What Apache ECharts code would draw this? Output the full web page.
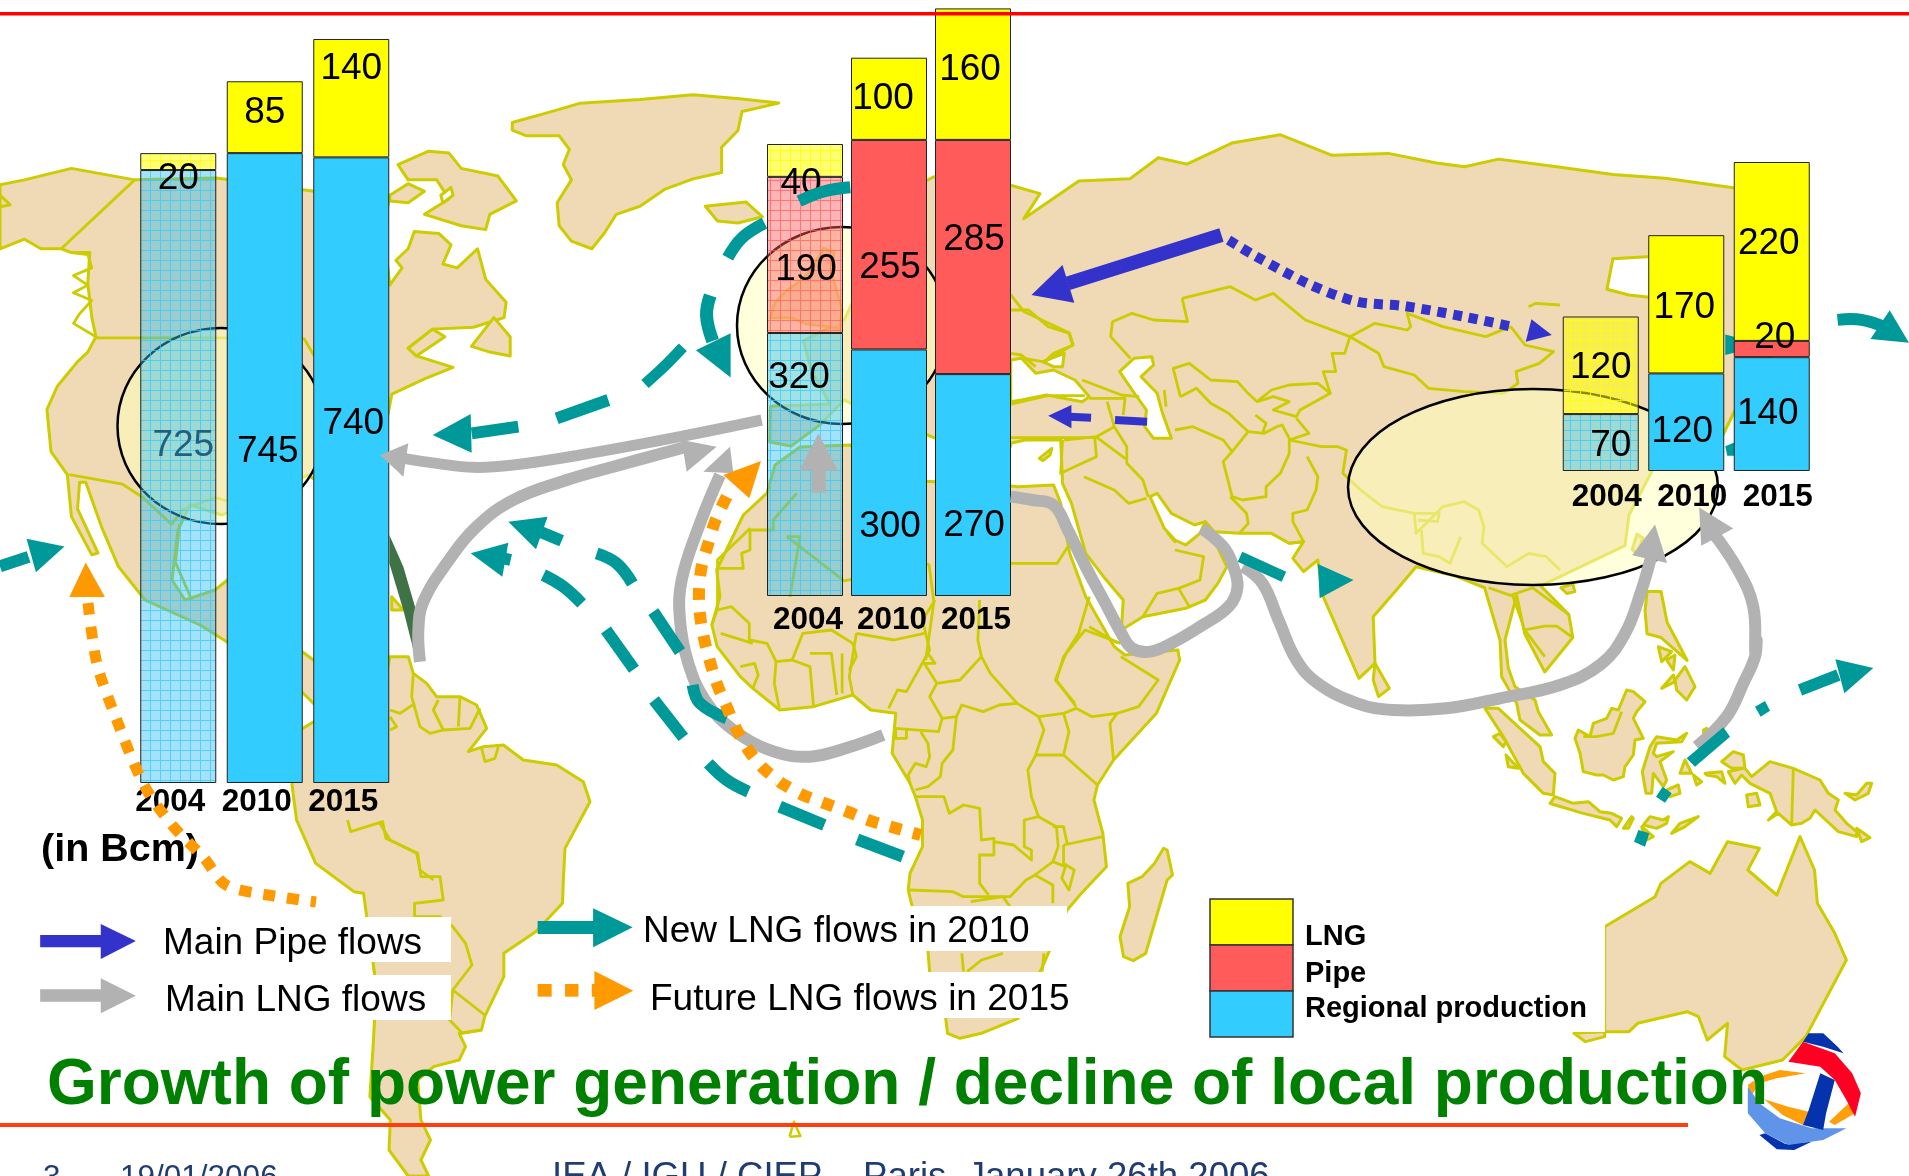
<!DOCTYPE html>
<html lang="en">
<head>
<meta charset="UTF-8">
<title>Growth of power generation / decline of local production</title>
<script src="https://cdn.jsdelivr.net/npm/echarts@6/dist/echarts.min.js"></script>
<style>
    html, body { margin: 0; padding: 0; background: #fff; overflow: hidden; }
    #main { width: 1909px; height: 1176px; }
</style>
</head>
<body>
<div id="main"></div>
<script>
// values in Bcm, as printed on the bars
var years = ['2004', '2010', '2015'];
var naRegional = [725, 745, 740];
var naLng = [20, 85, 140];
var euRegional = [320, 300, 270];
var euPipe = [190, 255, 285];
var euLng = [40, 100, 160];
var asiaRegional = [70, 120, 140];
var asiaPipe = [null, null, 20];
var asiaLng = [120, 170, 220];

var legendNames = ['LNG', 'Pipe', 'Regional production'];
var flowNames = ['Main Pipe flows', 'Main LNG flows', 'New LNG flows in 2010', 'Future LNG flows in 2015'];

var FONT = '"Liberation Sans", Arial, sans-serif';
var YELLOW = '#FFFF00', RED = '#FF5B5B', BLUE = '#33CCFF';
var LAND = '#F0D9B5', COAST = '#CCCC00';
var TEAL = '#009999', GRAY = '#B2B2B2', ORANGE = '#FF9900', PIPEBLUE = '#3333CC';

// 2004 bars are see-through with a fine grid
function gridPattern(fill, line) {
    var c = document.createElement('canvas');
    c.width = 10; c.height = 10;
    var g = c.getContext('2d');
    g.fillStyle = fill;
    g.fillRect(0, 0, 10, 10);
    g.fillStyle = line;
    g.fillRect(0, 0, 10, 1);
    g.fillRect(0, 1, 1, 9);
    return { image: c, repeat: 'repeat' };
}
var pat = {
    regional: gridPattern('rgba(51,190,240,0.45)', 'rgba(51,204,255,0.75)'),
    pipe: gridPattern('rgba(255,91,91,0.45)', 'rgba(255,91,91,0.7)'),
    lng: gridPattern('rgba(255,255,0,0.55)', 'rgba(255,255,0,0.8)')
};

// [dx, dy] of each printed number from the middle of its segment
var nudge = {
    na: { regional: [[5, -31], [3, -16], [2, -46]], lng: [[0, 17], [0, -4], [0, -29]] },
    eu: { regional: [[-6, -87], [1, 54], [1, 41]], pipe: [[1, 15], [1, 23], [1, -17]], lng: [[-4, 23], [-6, 0], [-3, -4]] },
    asia: { regional: [[10, 3], [-4, 10], [-4, 0]], pipe: [[0, 0], [0, 0], [3, -11]], lng: [[0, 3], [-2, 3], [-3, -8]] }
};

function segment(name, values, color, faded, offsets, grid, stack) {
    return {
        type: 'bar', name: name, stack: stack, z: 5,
        xAxisIndex: grid, yAxisIndex: grid, barWidth: 76,
        data: values.map(function (v, i) {
            var item = { value: v, label: { offset: offsets[i] } };
            if (i == 0) {
                item.itemStyle = { color: faded };
                if (v == 725) item.label.color = '#1F5F7F';
            }
            return item;
        }),
        itemStyle: { color: color, borderColor: '#222', borderWidth: 1 },
        label: { show: true, position: 'inside', fontFamily: FONT, fontSize: 37, color: '#000' }
    };
}

var series = [
    segment('Regional production', naRegional, BLUE, pat.regional, nudge.na.regional, 0, 'na'),
    segment('LNG', naLng, YELLOW, pat.lng, nudge.na.lng, 0, 'na'),
    segment('Regional production', euRegional, BLUE, pat.regional, nudge.eu.regional, 1, 'eu'),
    segment('Pipe', euPipe, RED, pat.pipe, nudge.eu.pipe, 1, 'eu'),
    segment('LNG', euLng, YELLOW, pat.lng, nudge.eu.lng, 1, 'eu'),
    segment('Regional production', asiaRegional, BLUE, pat.regional, nudge.asia.regional, 2, 'asia'),
    segment('Pipe', asiaPipe, RED, pat.pipe, nudge.asia.pipe, 2, 'asia'),
    segment('LNG', asiaLng, YELLOW, pat.lng, nudge.asia.lng, 2, 'asia')
];

function xAxisFor(grid, margin, padding) {
    return {
        type: 'category', gridIndex: grid, data: years, z: 6,
        axisLine: { show: false }, axisTick: { show: false },
        axisLabel: { margin: margin, padding: padding, fontFamily: FONT, fontSize: 31.5, fontWeight: 'bold', color: '#000', interval: 0 }
    };
}
function yAxisFor(grid, max) {
    return { type: 'value', gridIndex: grid, min: 0, max: max, show: false, splitLine: { show: false } };
}

// ---- map and flow drawing (background artwork, not data) ----
// each frame is [left, top, scaleX, scaleY] of a traced crop of the slide
var Z1 = [0, 0, 2.45, 2.613], Z2 = [640, 0, 2.45, 2.376], Z3 = [1280, 140, 2.493, 2.613];
var Z4 = [0, 820, 1.568, 3], Z5 = [1000, 820, 1.725, 3], Z6 = [660, 600, 2.8, 3];
var Z7 = [1440, 640, 3, 3], Z8 = [380, 380, 3, 3], Z9 = [1000, 220, 2.8, 3];

function P(f, str) {
    return str.trim().split(/\s+/).map(function (p) {
        var c = p.split(',');
        return [f[0] + c[0] / f[2], f[1] + c[1] / f[3]];
    });
}

var els = [];
function poly(points, fill, z, stroke, lw) {
    els.push({ type: 'polygon', silent: true, z: z, shape: { points: points },
        style: { fill: fill, stroke: stroke || null, lineWidth: lw || 0, lineJoin: 'round' } });
}
function line(points, color, w, z, smooth, dash) {
    els.push({ type: 'polyline', silent: true, z: z, shape: { points: points, smooth: smooth || 0 },
        style: { fill: null, stroke: color, lineWidth: w, lineDash: dash || null, lineCap: 'butt', lineJoin: 'round' } });
}
function land(points) { poly(points, LAND, 0, COAST, 3); }
function sea(points) { poly(points, '#fff', 1, COAST, 3); }
function border(f, str) { line(P(f, str), COAST, 2.8, 1); }
function rect(x, y, w, h, fill, z) {
    els.push({ type: 'rect', silent: true, z: z, shape: { x: x, y: y, width: w, height: h }, style: { fill: fill } });
}
function label(text, x, y, size, color, bold, z) {
    els.push({ type: 'text', silent: true, z: z || 9, style: { text: text, x: x, y: y, fill: color,
        font: (bold ? 'bold ' : '') + size + 'px ' + FONT, textAlign: 'left', textVerticalAlign: 'middle' } });
}
function ellipse(cx, cy, a, b) {
    els.push({ type: 'ellipse', silent: true, z: 3, shape: { cx: cx, cy: cy, rx: a, ry: b },
        style: { fill: 'rgba(255,255,190,0.55)', stroke: '#000', lineWidth: 2.5 } });
}

// North America
land([].concat(
    P(Z1, '0,483 60,470 175,440 330,470 530,465 770,500 955,510 940,600 955,745 985,700 970,680 1000,650 1015,605 1075,610 1105,640 1085,690 1120,700 1170,650 1190,730 1240,790 1235,830 1160,855 1060,860 1000,910 1020,930 1110,960 1040,990 960,1030'),
    [[385, 430], [370, 500], [345, 560], [330, 490], [308, 475], [222, 515], [190, 505], [178, 530], [172, 580], [185, 600], [215, 590], [240, 570], [280, 610], [300, 650], [340, 680], [375, 700], [375, 755], [330, 720], [300, 690], [240, 650], [200, 625], [145, 600], [118, 566]],
    P(Z1, '290,1480 250,1380 210,1260 195,1260 190,1330 240,1445 225,1450 175,1350 165,1240 125,1180 115,1070 140,1010 190,945 215,920 235,880 225,830 215,740 220,660 175,660 150,650 100,650 60,625 0,650')
));
land(P(Z1, '0,510 25,535 0,540'));
land(P(Z1, '975,430 1050,395 1100,400 1130,440 1220,460 1265,525 1200,560 1190,600 1130,590 1040,560 1100,520 1070,470 1000,470'));
land(P(Z1, '1155,905 1210,830 1250,880 1250,930 1200,920'));
land(P(Z1, '955,510 1000,480 1040,500 1000,530 955,525'));
land(P(Z1, '1020,930 1090,880 1060,860 1000,910'));
land(P(Z8, '35,650 70,690 35,690'));
sea(P(Z1, '1080,510 1105,490 1110,510 1085,530'));
border(Z1, '330,470 150,650');
border(Z1, '235,883 530,883 745,885 770,930');
border(Z1, '170,1240 300,1265 350,1300 420,1370 450,1330 528,1300 560,1310');
border(Z1, '440,1370 430,1470 470,1568');
border(Z1, '175,660 215,665 225,700 180,720 215,745 180,765 225,785 195,820 180,845 235,880');

// South America
land([].concat(
    P(Z8, '30,830 85,830 100,880 140,910 170,950 240,950 290,975 320,1045 265,1115 310,1100 370,1095 430,1140 530,1155 610,1205 630,1265 555,1405 550,1500'),
    P(Z4, '882,250 840,335 790,400 790,470 760,590 755,630 720,640 730,680 720,720 680,740 655,780 660,900 675,960 660,1020 672,1068 640,1068 610,990 612,900 580,830 585,680 590,500 570,220 555,215 495,130 465,0'),
    [[292, 785], [300, 730], [350, 700], [385, 680]]
));
border(Z8, '100,880 95,950 120,1040 150,1060 190,1050 160,990 175,960');
border(Z8, '240,950 235,1040');
border(Z8, '190,1050 270,1045 300,985');
border(Z8, '30,990 60,1000 105,970');
border(Z8, '30,1050 50,1040 30,1010');
border(Z8, '305,1105 315,1145 345,1135 355,1100');
border(Z8, '0,1330 30,1380 110,1420 120,1470 160,1500');
border(Z4, '545,0 550,35 600,5 605,55 655,100 660,170 690,170 695,240 650,250 650,290 690,290 710,320 730,370 740,435 710,510 760,585');
border(Z4, '710,510 705,600 725,640 755,630');
border(Z4, '590,500 585,430');

// Greenland and Iceland
land([].concat(
    P(Z1, '1255,320 1340,295 1420,270 1568,260'),
    P(Z2, '130,225 250,235 340,245 250,265 240,310 200,350 200,410 130,425 60,450 0,490'),
    P(Z1, '1510,560 1480,610 1450,650 1400,630 1370,590 1365,530 1400,470 1380,430 1395,390 1370,355 1290,355 1255,340')
));
land(P(Z2, '160,490 260,480 300,515 240,530 190,525'));

// Eurasia
land([].concat(
    P(Z2, '720,420 908,440 980,460 940,520 1000,480 1075,430 1200,425 1270,375 1340,390 1450,340 1568,320'),
    P(Z3, '130,40 270,35 390,60 460,70 545,50 690,70 830,90 960,100 1130,125'),
    [[1790, 200], [1790, 330], [1740, 400]],
    P(Z3, '1100,780 930,860 870,980 860,1060 720,1130 650,1165 720,1240 730,1300 660,1390 610,1290 590,1190'),
    P(Z7, '195,0 205,85 225,140 285,180 295,215 335,285 300,285 240,240 230,190 185,110 180,0'),
    P(Z3, '510,1170 440,1140'),
    P(Z9, '1165,1040 1110,1110 1045,1190 1050,1330 1005,1375 905,1130 890,1020 850,1055 820,1015 850,965 810,970 760,940 670,940 600,935 575,905 635,1040 610,1090 575,1140 520,1165 400,1190 340,1230 345,1140 290,1070 240,1000 200,850 175,790 170,660 70,660 30,670'),
    P(Z2, '908,1060 720,1040 520,960 500,950 440,1010 370,1060 318,1050 320,965 465,960 420,880 400,810 500,760 560,640 640,520 700,430')
));
land(P(Z2, '330,720 360,690 390,670 420,640 450,590 475,600 470,650 495,735 490,780 410,770 370,755 320,755'));
sea(P(Z9, '30,420 60,415 100,460 150,450 210,480 250,530 230,545 130,525 60,540 30,545'));
sea(P(Z9, '120,425 180,400 175,440 150,440'));
sea(P(Z9, '335,455 375,415 425,410 430,435 395,470 440,520 455,580 480,655 430,655 405,620 410,570 370,510'));
sea(P(Z9, '420,830 440,820 480,880 545,915 575,905 560,940 520,975 490,960 460,925'));
sea(P(Z3, '1000,300 830,310 815,390 870,405 1000,420'));
land(P(Z9, '110,715 145,685 140,705 120,722'));
land(P(Z9, '470,940 490,925 505,945 490,965'));
land(P(Z9, '1050,1330 1090,1405 1060,1430 1045,1380'));
land(P(Z3, '700,1170 730,1160 735,1180 715,1185'));
land(P(Z3, '890,1030 905,1040 890,1080 878,1070'));
border(Z9, '30,270 80,270 135,320 195,340 205,375 150,400 120,430');
border(Z9, '30,400 60,405 100,440');
border(Z9, '510,235 645,200 715,240 765,220 855,300 980,350');
border(Z9, '510,235 525,305 430,300 370,280 315,305 310,350 365,415');
border(Z9, '980,350 965,400 930,400 940,455 905,455 925,520 840,570 830,590 765,570 810,545 765,530 720,545 690,515 665,485 590,480 530,430 485,445 505,530');
border(Z9, '925,520 890,490 810,495 760,510 720,545');
border(Z9, '505,530 550,505 590,550 640,580 695,635 650,695 625,660 540,620 490,630');
border(Z9, '695,635 740,640 775,620 790,615 810,655');
border(Z9, '715,585 745,610 735,640');
border(Z9, '980,350 1050,310 1140,330 1150,320 1140,280 1240,320 1360,350 1430,320');
border(Z9, '1430,320 1470,375 1550,395 1510,430 1445,455 1450,490 1410,520 1300,515 1200,505 1160,465 1075,440 1060,400 980,350');
border(Z9, '1480,260 1500,250 1568,255');
border(Z9, '830,595 865,640 810,660 900,680 945,680 970,690 960,760 1010,810 1070,860 1160,880');
border(Z9, '810,655 810,700 785,760 745,800 745,830 680,840 650,830 625,725 650,695');
border(Z9, '860,710 890,770 885,810 860,870 820,880 820,905 850,965 810,970');
border(Z9, '645,830 690,880 695,910 670,940');
border(Z9, '300,545 320,620 355,680 355,730 400,780 415,830');
border(Z9, '180,660 270,650 320,620');
border(Z9, '175,660 170,760 230,730 270,710 265,650');
border(Z9, '235,770 320,810 360,850 410,835');
border(Z9, '230,480 340,525 390,530');
border(Z9, '250,535 350,535 345,585');
border(Z9, '460,510 465,560');
border(Z9, '400,1190 440,1120 500,1105 560,1080 570,1010 490,990');
border(Z9, '500,1105 530,1160');
border(Z9, '1160,880 1165,940 1240,860 1300,845 1340,870 1355,920 1350,970 1420,1040 1480,1000 1530,1010 1568,1050');
border(Z9, '1160,880 1230,880 1225,905 1170,900');
border(Z9, '1180,930 1185,1000 1230,1010 1260,1030 1290,950');
border(Z3, '520,1170 575,1190 630,1170 720,1240');
border(Z3, '580,1190 610,1280 660,1270 690,1270 730,1300');
border(Z3, '610,1280 660,1350');
border(Z2, '908,700 940,740 1050,790 1060,820 990,860 930,850');
border(Z2, '908,960 1000,940 1090,940');
border(Z2, '908,1040 1020,1040 1120,1040 1190,1090');

// Africa
land([].concat(
    [[767, 493], [775, 465], [800, 447], [850, 445], [900, 480]],
    P(Z9, '0,795 50,800 150,795 170,850 195,1000 240,1130 320,1280 350,1305'),
    P(Z6, '1450,150 1455,180 1390,340 1270,480 1225,555 1215,600 1240,700 1250,800 1180,880 1140,930 1075,1090 1003,1255 900,1300 840,1315 805,1300 800,1255 755,1115 750,1050 705,915 695,870 700,820 735,740 735,660 715,590 700,550 650,460 660,340 590,330 540,285 430,320 335,330 260,265 225,230 160,140 145,75'),
    P(Z8, '1020,650 1010,570 1090,405 1160,340')
));
land(P(Z6, '1410,745 1420,750 1435,825 1420,840 1360,1060 1325,1082 1298,1070 1288,1010 1315,920 1310,850 1350,830 1385,790'));
[
    '145,75 160,30 200,20 250,70 250,120 300,130 325,185 320,250 335,330',
    '170,100 260,130',
    '225,200 265,190 275,225 260,265',
    '325,185 370,180 420,200 430,320',
    '420,160 480,160 495,285',
    '510,160 510,280',
    '530,210 550,170 540,130 480,90 400,100 370,180',
    '550,100 655,120 740,100',
    '550,100 530,230 540,285',
    '640,325 665,270 690,275 755,150 735,60 770,0',
    '660,385 780,395 790,355 755,290 775,250 840,240 900,170 925,220 1000,310 1060,350 1130,340',
    '775,250 740,190 770,190 750,160',
    '1000,310 950,315 905,335 845,315 830,350 790,355',
    '830,350 820,450 790,490 785,530 750,560 715,570',
    '660,385 660,415 690,415 690,385',
    '730,395 750,430 755,470 745,500 715,490 695,525 700,550',
    '715,590 795,590 810,640 850,615 895,625 900,720 935,715 935,765 895,765 895,850 920,885',
    '700,870 820,875 850,890 980,890 1025,840 1050,825 1100,855 1100,910',
    '935,725 990,735 1040,780 1040,750 1020,740 1020,660 1060,650 1110,680 1115,740 1100,785 1050,825',
    '1060,650 1040,590 1030,510 1050,470 1075,390 1060,350',
    '1050,465 1130,465 1145,395 1130,340',
    '1130,465 1225,555',
    '1130,340 1165,325 1210,350 1280,340 1340,320 1395,240 1290,170',
    '1280,340 1260,370 1270,480',
    '1110,240 1165,320',
    '1110,240 1130,170 1190,90 1290,130',
    '900,170 890,120 895,0',
    '1130,735 1240,710',
    '1130,735 1130,790 1160,810 1145,870 1125,835 1135,800 1100,785',
    '1100,680 1130,680 1140,730',
    '870,905 960,890 980,920',
    '845,1060 850,1115',
    '960,1060 900,1080 860,1115',
    '1075,1060 1070,1115'
].forEach(function (s) { border(Z6, s); });
border(Z8, '1010,565 1090,565 1085,520 1110,510 1110,450 1180,450 1180,420 1250,340');
border(Z8, '1220,470 1260,470 1230,650');
border(Z2, '270,1255 190,1330 190,1450');
border(Z2, '360,1275 500,1380 708,1340');
border(Z2, '708,1340 720,1430 700,1568');
border(Z9, '30,1030 110,1030 160,1030 190,980');
border(Z9, '250,1130 220,1240 185,1300 155,1380 210,1450');
border(Z9, '330,1270 250,1220');

// South-East Asia, Australia
[
    '135,205 175,205 240,265 300,320 310,365 345,400 340,465 310,460 250,400 190,290',
    '330,490 345,470 400,490 445,485 480,515 515,520 545,535 530,560 510,540 430,520 345,495',
    '550,565 575,530 580,535 565,565',
    '610,555 630,530 670,540 685,530 680,550 650,565',
    '695,580 720,550 775,530 735,560',
    '605,560 640,590 620,600',
    '405,295 415,270 450,290 460,250 500,235 515,205 535,210 560,150 580,155 615,185 590,215 580,235 610,295 585,300 580,345 555,380 550,410 520,420 490,405 470,405 430,395 420,340',
    '630,320 650,290 710,300 740,280 725,305 650,310 640,340 650,350 700,335 660,365 680,420 670,440 640,400 635,460 618,460 607,395',
    '680,450 715,435 720,460 690,470',
    '720,400 735,360 755,400',
    '760,405 785,425 770,435',
    '795,400 845,395 855,430 830,410 800,405',
    '790,270 800,265 795,300',
    '845,365 880,335 910,345 915,385 935,410 990,365 1060,385 1140,420 1165,460 1195,480 1185,510 1220,550 1250,575 1250,590 1195,575 1125,510 1110,535 1085,550 1055,555 1015,520 985,540 1010,515 990,460 930,430 905,405 885,430 865,395 910,385 875,385',
    '1250,565 1290,593 1265,605',
    '920,465 950,460 960,495 925,500',
    '1215,460 1250,465 1280,430 1295,430 1285,460 1245,480',
    '160,290 180,280 198,305 190,320',
    '198,345 235,385 205,380',
    '655,20 695,35 665,65',
    '735,80 765,140 740,180 710,150 705,120',
    '665,145 700,105 705,125',
    '680,60 705,45 700,90'
].forEach(function (s) { land(P(Z7, s)); });
border(Z7, '430,290 470,290 520,280 545,215');
border(Z7, '1060,385 1055,555');
land(P(Z3, '915,1180 950,1180 965,1260 1015,1360 950,1300 915,1290 910,1230'));
land(P(Z5, '1043,320 1130,230 1140,190 1190,125 1225,160 1255,65 1310,85 1290,150 1340,225 1380,50 1405,150 1410,250 1440,340 1460,420 1390,650 1350,720 1280,750 1250,710 1255,610 1220,660 1205,590 1185,575 1100,610 1085,635 1040,635 990,640 1010,665 1043,650'));
line(P(Z4, '1238,950 1245,905 1255,948 1238,950'), COAST, 2.5, 1);

// regions of the three charts
ellipse(221, 426, 103.5, 98);
ellipse(842, 325.5, 105, 98.5);
ellipse(1533, 487, 185, 98);

// white boxes behind the key texts
rect(160, 917, 291, 45, '#fff', 4);
rect(160, 975, 291, 45, '#fff', 4);
rect(640, 906, 427, 45, '#fff', 4);
rect(640, 972, 436, 46, '#fff', 4);
rect(1300, 900, 305, 132, '#fff', 4);

// flows
function head(f, s, color) { poly(P(f, s), color, 10); }
function flow(f, s, color, w, smooth, dash) { line(P(f, s), color, w, 10, smooth === undefined ? 0.4 : smooth, dash); }

poly(P(Z8, '28,465 70,560 105,680 122,840 108,840 70,690 28,550'), '#3F7346', 10);

// main LNG flows
flow(Z8, '1145,120 900,170 600,225 400,255 280,262 170,250 70,235', GRAY, 11);
head(Z8, '85,190 0,225 70,290', GRAY);
flow(Z8, '120,845 115,750 130,665 200,550 290,440 400,360 560,300 700,260 920,200', GRAY, 12);
head(Z8, '905,180 1010,200 920,275', GRAY);
line([].concat(P(Z8, '1020,285 960,430 905,600 900,720 925,850 975,960 1060,1050'), P(Z6, '320,455 420,470 520,445 625,405')), GRAY, 12, 10, 0.4);
head(Z8, '970,275 1050,200 1060,280', GRAY);
poly(P(Z2, '420,1170 455,1170 455,1118 485,1118 437,1030 390,1118 420,1118'), GRAY, 10);
flow(Z9, '30,830 90,840 150,855 190,930 240,1040 290,1140 340,1240 370,1285 420,1295 480,1270 560,1220 640,1160 665,1100 650,1030 625,980 565,925', GRAY, 12);
line([].concat(P(Z9, '680,1040 735,1090 780,1200 830,1320 890,1390 1000,1450 1100,1470 1250,1465 1400,1435 1568,1395'), P(Z3, '800,1370 860,1290 900,1180 925,1090')), GRAY, 12, 10, 0.4);
head(Z3, '878,1085 935,1005 965,1105', GRAY);
line([].concat(P(Z7, '770,320 860,230 910,130 945,50 950,0'), P(Z3, '1185,1340 1180,1220 1140,1120 1075,1020')), GRAY, 12, 10, 0.4);
head(Z3, '1050,1060 1045,960 1130,1015', GRAY);

// new LNG flows in 2010
flow(Z8, '415,140 275,160', TEAL, 12, 0);
head(Z8, '272,102 158,165 275,218', TEAL);
flow(Z8, '530,115 685,60', TEAL, 12, 0);
line([].concat(P(Z8, '795,12'), P(Z2, '60,870 105,825')), TEAL, 11, 10, 0.3);
flow(Z2, '172,702 163,750 178,810', TEAL, 13);
head(Z2, '137,832 222,792 222,897', TEAL);
flow(Z2, '215,612 250,565 305,530', TEAL, 12);
flow(Z2, '390,478 450,455 515,445', TEAL, 12);
flow(Z8, '545,482 480,455', TEAL, 12, 0);
head(Z8, '385,425 503,410 468,508', TEAL);
flow(Z8, '650,520 710,550 757,610', TEAL, 12);
flow(Z8, '820,695 900,815', TEAL, 12, 0);
flow(Z8, '392,540 370,535', TEAL, 12, 0);
head(Z8, '272,520 385,488 367,590', TEAL);
flow(Z8, '490,585 550,620 605,670', TEAL, 12);
flow(Z8, '678,750 762,868', TEAL, 12, 0);
flow(Z8, '822,960 910,1072', TEAL, 12, 0);
flow(Z8, '985,1150 1040,1200 1105,1235', TEAL, 12);
flow(Z6, '335,620 460,675', TEAL, 12, 0);
flow(Z6, '552,718 680,770', TEAL, 12, 0);
flow(Z8, '938,915 960,970 1040,1015', TEAL, 12);
flow(Z1, '0,1480 70,1455', TEAL, 12, 0);
head(Z1, '65,1408 158,1428 88,1495', TEAL);
flow(Z9, '672,1010 795,1070', TEAL, 11, 0);
head(Z9, '890,1032 990,1080 895,1135', TEAL);
flow(Z3, '1390,470 1450,470 1510,490', TEAL, 12);
head(Z3, '1520,445 1568,530 1472,520', TEAL);
poly(P(Z3, '1110,508 1134,515 1134,555 1110,562'), TEAL, 4);
poly(P(Z3, '1110,800 1134,790 1134,825 1115,825'), TEAL, 4);
flow(Z7, '1080,150 1195,105', TEAL, 12, 0);
head(Z7, '1186,58 1300,84 1213,160', TEAL);
head(Z7, '945,200 975,183 990,212 962,230', TEAL);
head(Z7, '740,355 850,262 870,290 765,380', TEAL);
head(Z7, '648,470 668,440 695,460 675,488', TEAL);
head(Z7, '595,570 628,580 615,620 582,605', TEAL);

// future LNG flows
line([].concat(
    P(Z8, '1040,350 1005,425 985,490 965,560 957,630 960,705 972,775 990,845 1012,915 1040,980 1068,1045 1105,1110 1150,1165 1205,1210'),
    P(Z6, '340,550 400,585 462,610 525,635 588,662 652,682 730,705')
), ORANGE, 12, 10, 0.3, [12, 12]);
head(Z8, '1030,285 1143,243 1108,355', ORANGE);
line([[88, 603], [97, 664], [116, 718], [144, 785], [172, 825], [204, 858], [226, 885], [268, 895], [316, 902]], ORANGE, 11, 10, 0.3, [12, 12]);
head(Z1, '170,1560 210,1470 257,1560', ORANGE);

// main pipe flows
flow(Z9, '620,45 190,190', PIPEBLUE, 14, 0);
head(Z9, '175,135 88,225 208,248', PIPEBLUE);
flow(Z9, '640,60 710,105 870,195 1000,245 1130,258 1300,290 1440,322', PIPEBLUE, 10, 0.3, [9, 7]);
head(Z9, '1488,298 1545,345 1472,365', PIPEBLUE);
flow(Z9, '255,593 195,590', PIPEBLUE, 8, 0);
head(Z9, '200,555 135,587 200,625', PIPEBLUE);
flow(Z9, '322,600 412,605', PIPEBLUE, 8, 0);

// key of flows
poly(P(Z4, '63,345 158,345 158,312 213,363 158,417 158,382 63,382'), PIPEBLUE, 6);
poly(P(Z4, '63,508 158,508 158,475 213,527 158,580 158,545 63,545'), GRAY, 6);
poly(P(Z4, '843,303 930,303 930,265 992,322 930,382 930,342 843,342'), TEAL, 6);
poly(P(Z4, '843,492 865,492 865,530 843,530'), ORANGE, 6);
poly(P(Z4, '886,492 907,492 907,530 886,530'), ORANGE, 6);
poly(P(Z4, '928,492 932,492 932,453 993,512 932,570 932,530 928,530'), ORANGE, 6);
label(flowNames[0], 163, 944, 37, '#000');
label(flowNames[1], 165, 1001, 37, '#000');
label(flowNames[2], 643, 932, 37, '#000');
label(flowNames[3], 650, 1000, 37, '#000');

// key of bars
[[899, YELLOW], [945, RED], [991, BLUE]].forEach(function (s) {
    els.push({ type: 'rect', silent: true, z: 6, shape: { x: 1210, y: s[0], width: 83, height: 46 },
        style: { fill: s[1], stroke: '#333', lineWidth: 1.5 } });
});
label(legendNames[0], 1305, 937, 29, '#000', true);
label(legendNames[1], 1305, 974, 29, '#000', true);
label(legendNames[2], 1305, 1009, 29, '#000', true);
label('(in Bcm)', 41, 850, 39.5, '#000', true);

// logo
poly(P(Z5, '1395,640 1420,640 1445,680 1455,700 1420,680 1385,665'), '#0433AD', 7);
poly(P(Z5, '1310,770 1345,750 1390,760 1340,775 1310,790 1295,830 1290,795'), '#FF9F0A', 7);
poly(P(Z5, '1318,838 1360,860 1395,875 1385,915 1350,885'), '#FF9F0A', 7);
poly(P(Z5, '1470,840 1475,880 1440,915 1430,905'), '#FF9F0A', 7);
poly(P(Z5, '1310,945 1320,940 1355,972 1400,965 1370,990 1340,988'), '#0433AD', 7);
poly(P(Z5, '1290,800 1310,850 1345,895 1400,925 1460,925 1420,960 1360,975 1320,940 1290,880'), '#6094E8', 8);
poly(P(Z5, '1360,725 1385,665 1440,700 1470,760 1485,820 1475,890 1460,840 1440,780 1415,740'), '#FF0022', 8);
poly(P(Z5, '1415,760 1440,780 1425,880 1420,930 1385,915 1395,870'), '#0433AD', 8);

// title, rules, footer
rect(0, 12, 1909, 3.5, '#FF0000', 7);
rect(0, 1123, 1688, 4, '#FF3D0D', 2);
label('Growth of power generation / decline of local production', 47, 1086, 64, '#008000', true, 9);
label('3', 43, 1178, 31.5, '#1F3D73');
label('19/01/2006', 120, 1178, 31.5, '#1F3D73');
label('IEA / IGU / CIEP \u2013 Paris, January 26th 2006', 552, 1178, 36.6, '#1F3D73');

var myChart = echarts.init(document.getElementById('main'));
myChart.setOption({
    animation: false,
    backgroundColor: '#fff',
    grid: [
        { left: 135, top: 39, width: 259.5, height: 744 },
        { left: 763, top: 8.4, width: 252, height: 587.6 },
        { left: 1558, top: 162, width: 256.5, height: 309 }
    ],
    xAxis: [
        xAxisFor(0, 3, [0, 16, 0, 0]),
        xAxisFor(1, 8, [0, 0, 0, 6]),
        xAxisFor(2, 10, [0, 0, 0, 12])
    ],
    yAxis: [yAxisFor(0, 880), yAxisFor(1, 715), yAxisFor(2, 380)],
    series: series,
    graphic: { elements: els }
});
</script>
</body>
</html>
